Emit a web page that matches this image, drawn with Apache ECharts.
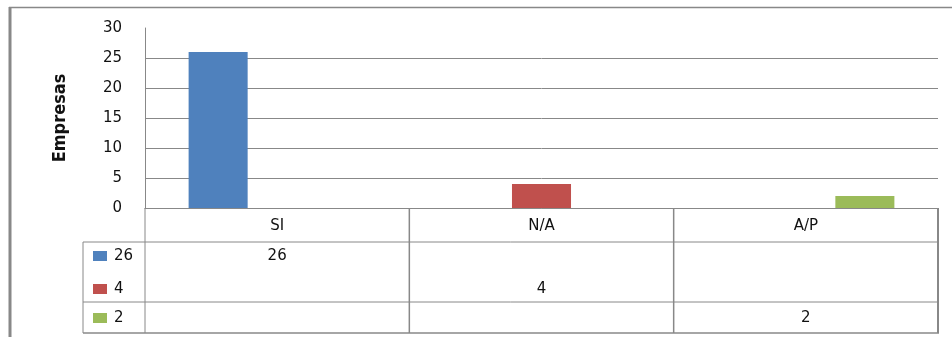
<!DOCTYPE html>
<html>
<head>
<meta charset="utf-8">
<script src="https://cdn.jsdelivr.net/npm/echarts@6/dist/echarts.min.js"></script>
<style>
  html, body { margin: 0; padding: 0; background: #fff; }
  #chart { width: 952px; height: 337px; }
</style>
</head>
<body>
<div id="chart"></div>
<script>
// datos
var categorias = ['SI', 'N/A', 'A/P'];
var nombresSeries = ['26', '4', '2'];
var serie26 = [26, '-', '-'];
var serie4 = ['-', 4, '-'];
var serie2 = ['-', '-', 2];
var colores = ['#4F81BD', '#C0504D', '#9BBB59'];
var valoresSeries = [serie26, serie4, serie2];

var gris = '#888888';
var fuente = "'DejaVu Sans', Verdana, sans-serif";

var myChart = echarts.init(document.getElementById('chart'));

var series = nombresSeries.map(function (n, i) {
    return {
        name: n,
        type: 'bar',
        data: valoresSeries[i],
        barGap: 0,
        barCategoryGap: '33%',
        itemStyle: { color: colores[i] },
        silent: true
    };
});

var option = {
    animation: false,
    grid: { left: 145, top: 28, right: 14, bottom: 129 },
    xAxis: {
        type: 'category',
        data: categorias,
        axisLine: { lineStyle: { color: gris, width: 1 } },
        axisTick: { show: false },
        axisLabel: { margin: 11, fontSize: 15, color: '#111', fontFamily: fuente }
    },
    yAxis: {
        type: 'value',
        min: 0,
        max: 30,
        interval: 5,
        name: 'Empresas',
        nameLocation: 'middle',
        nameRotate: 90,
        nameGap: 76,
        nameTextStyle: {
            fontSize: 18,
            fontWeight: 'bold',
            color: '#111',
            fontFamily: "'Liberation Sans Narrow', 'DejaVu Sans Condensed', sans-serif"
        },
        axisLine: { show: true, lineStyle: { color: gris, width: 1 } },
        axisTick: { show: false },
        axisLabel: { margin: 23, fontSize: 15, color: '#111', fontFamily: fuente },
        splitLine: { showMaxLine: false, lineStyle: { color: gris, width: 1 } }
    },
    series: series
};

myChart.setOption(option);

// tabla de datos debajo del eje
function dibujarTabla() {
    var x0 = myChart.convertToPixel({ xAxisIndex: 0 }, categorias[0]);
    var x1 = myChart.convertToPixel({ xAxisIndex: 0 }, categorias[1]);
    var paso = x1 - x0;
    var izq = x0 - paso / 2;
    var der = izq + paso * categorias.length;
    var yEje = myChart.convertToPixel({ yAxisIndex: 0 }, 0);
    var colLeyenda = 83;
    var filaCab = yEje + 34;
    var filaMedia = yEje + 94;
    var filaFin = yEje + 125;
    var yFilas = [yEje + 48, yEje + 81, yEje + 110];

    var g = [];
    function linea(xa, ya, xb, yb, w) {
        g.push({
            type: 'line', silent: true,
            shape: { x1: xa, y1: ya, x2: xb, y2: yb },
            style: { stroke: gris, lineWidth: w || 1 }
        });
    }
    // marco exterior
    linea(9, 7.5, 952, 7.5, 1.5);
    linea(10, 7, 10, 337, 3);
    // lineas de la tabla
    linea(colLeyenda, filaCab, der, filaCab);
    linea(colLeyenda, filaMedia, der, filaMedia);
    linea(colLeyenda, filaFin, der + 1, filaFin, 1.5);
    linea(colLeyenda, filaCab, colLeyenda, filaFin);
    linea(izq, yEje, izq, filaFin);
    for (var c = 1; c < categorias.length; c++) {
        linea(izq + paso * c, yEje, izq + paso * c, filaFin, 1.5);
    }
    linea(der, yEje, der, filaFin, 2);

    nombresSeries.forEach(function (n, i) {
        g.push({
            type: 'rect', silent: true,
            shape: { x: 93, y: yFilas[i] - 5, width: 14, height: 10 },
            style: { fill: colores[i] }
        });
        g.push({
            type: 'text', silent: true,
            style: {
                x: 114, y: yFilas[i], text: n, fill: '#111',
                font: '15px ' + fuente, textVerticalAlign: 'middle'
            }
        });
        valoresSeries[i].forEach(function (v, j) {
            if (v === '-') return;
            g.push({
                type: 'text', silent: true,
                style: {
                    x: myChart.convertToPixel({ xAxisIndex: 0 }, categorias[j]),
                    y: yFilas[i], text: String(v), fill: '#111',
                    font: '15px ' + fuente,
                    textAlign: 'center', textVerticalAlign: 'middle'
                }
            });
        });
    });

    myChart.setOption({ graphic: g });
}

dibujarTabla();
</script>
</body>
</html>
